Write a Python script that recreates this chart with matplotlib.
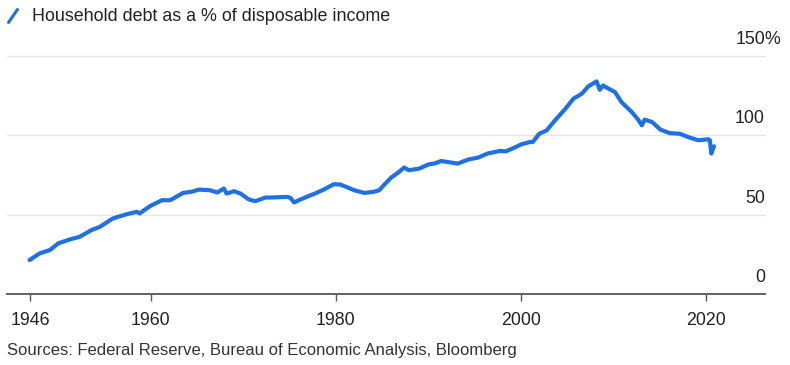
import matplotlib
matplotlib.use("Agg")
import matplotlib.pyplot as plt
from matplotlib.lines import Line2D

# ---- data ----
years = [1946.9, 1948.0, 1949.1, 1950.0, 1951.25, 1952.3, 1953.6, 1954.5, 1955.9,
         1957.4, 1958.5, 1958.8, 1959.9, 1961.2, 1962.1, 1963.5, 1964.4, 1965.2,
         1966.4, 1967.2, 1967.9, 1968.2, 1969.0, 1969.7, 1970.6, 1971.3, 1972.4,
         1972.9, 1974.75, 1975.1, 1975.5, 1976.2, 1977.3, 1977.6, 1978.7, 1979.8,
         1980.5, 1981.3, 1982.0, 1983.1, 1984.1, 1984.7, 1985.2, 1986.0, 1986.7,
         1987.4, 1987.9, 1989.0, 1990.1, 1990.65, 1991.4, 1992.1, 1993.2, 1994.3,
         1995.4, 1996.4, 1997.7, 1998.4, 1999.3, 2000.05, 2001.0, 2001.3, 2002.0,
         2002.8, 2003.7, 2004.75, 2005.7, 2006.6, 2007.3, 2008.2, 2008.55, 2008.9,
         2009.5, 2010.2, 2010.9, 2012.0, 2012.7, 2013.1, 2013.4, 2014.2, 2015.1,
         2016.1, 2017.2, 2018.1, 2019.2, 2020.3, 2020.45, 2020.6, 2020.9]
debt_pct = [21.4, 25.6, 27.7, 31.9, 34.4, 36.0, 40.3, 42.3, 47.6,
            50.3, 51.8, 50.8, 55.3, 59.1, 59.1, 63.7, 64.4, 65.8,
            65.4, 64.0, 66.5, 63.3, 64.8, 63.3, 59.6, 58.5, 60.8,
            60.8, 61.2, 60.6, 57.7, 59.6, 62.3, 62.9, 65.8, 69.2,
            69.0, 67.1, 65.4, 63.7, 64.4, 65.4, 68.6, 73.4, 76.3,
            79.7, 78.0, 79.0, 81.8, 82.2, 83.8, 83.2, 82.2, 84.7,
            86.0, 88.5, 90.1, 89.9, 92.2, 94.3, 95.8, 95.8, 101.0,
            103.1, 109.4, 116.2, 123.1, 126.2, 130.8, 134.0, 128.7, 131.4,
            129.4, 127.2, 120.9, 114.7, 109.9, 106.3, 109.9, 108.4, 103.6,
            101.4, 101.0, 98.9, 96.9, 97.5, 96.9, 88.5, 93.1]

x_tick_pos = [1946.95, 1960, 1980, 2000, 2020]
x_tick_labels = ["1946", "1960", "1980", "2000", "2020"]
y_ticks = [0, 50, 100, 150]
y_tick_labels = ["0", "50", "100", "150"]

title = "Household debt as a % of disposable income"
source = "Sources: Federal Reserve, Bureau of Economic Analysis, Bloomberg"

# ---- style ----
plt.rcParams['font.family'] = ['Liberation Sans', 'DejaVu Sans']
blue = "#1f6fe5"
text_c = "#222222"

W, H = 790, 365
fig = plt.figure(figsize=(W / 100, H / 100), dpi=100)
left, right, bottom_px, top_px = 7, 765, 294, 56
ax = fig.add_axes([left / W, 1 - bottom_px / H, (right - left) / W, (bottom_px - top_px) / H])

ax.plot(years, debt_pct, color=blue, lw=3.0, solid_joinstyle='round', solid_capstyle='round', zorder=3)

ax.set_xlim(1944.46, 2026.41)
ax.set_ylim(0, 150)

for s in ['top', 'right', 'left']:
    ax.spines[s].set_visible(False)
ax.spines['bottom'].set_color('#555555')
ax.spines['bottom'].set_linewidth(1.3)
ax.spines['bottom'].set_zorder(4)

for v in y_ticks[1:]:
    ax.axhline(v, color='#e4e4e4', lw=0.9, zorder=1, clip_on=False)

ax.set_yticks([])
ax.set_xticks(x_tick_pos)
ax.set_xticklabels(x_tick_labels, fontsize=12.8, color=text_c)
ax.tick_params(axis='x', direction='out', length=5, width=1, color='#555555', pad=8)

for v, lab in zip(y_ticks, y_tick_labels):
    ax.annotate(lab, xy=(1, v), xycoords=('axes fraction', 'data'),
                xytext=(0, 12), textcoords='offset points',
                ha='right', va='center', fontsize=12.8, color=text_c)
    if v == 150:
        ax.annotate("%", xy=(1, v), xycoords=('axes fraction', 'data'),
                    xytext=(-0.8, 12), textcoords='offset points',
                    ha='left', va='center', fontsize=12.8, color=text_c)

# legend-like title with slash icon
fig.add_artist(Line2D([8.5 / W, 17.5 / W], [1 - 22.5 / H, 1 - 9.5 / H],
                      color=blue, lw=2.2, solid_capstyle='round'))
fig.text(32 / W, 1 - 16.5 / H, title, ha='left', va='center', fontsize=12.9, color=text_c)
fig.text(7 / W, 1 - 350 / H, source, ha='left', va='center', fontsize=12.0, color='#333333')

fig.savefig("out.png", dpi=100, facecolor='white')
